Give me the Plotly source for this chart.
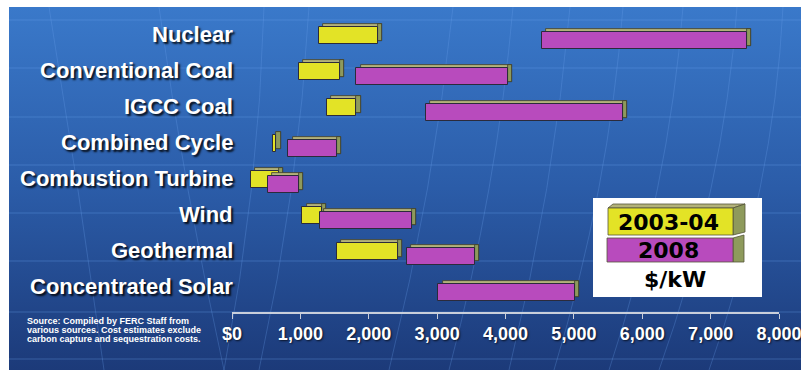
import base64
import plotly.graph_objects as go

# ---------------- data ----------------
categories = ["Nuclear", "Conventional Coal", "IGCC Coal", "Combined Cycle",
              "Combustion Turbine", "Wind", "Geothermal", "Concentrated Solar"]
cost_2003_low = [1270, 980, 1390, 595, 275, 1030, 1530, None]
cost_2003_high = [2130, 1580, 1820, 650, 680, 1320, 2430, None]
cost_2008_low = [4530, 1820, 2830, 825, 520, 1280, 2560, 3020]
cost_2008_high = [7530, 4030, 5720, 1530, 980, 2630, 3550, 5010]
tick_values = [0, 1000, 2000, 3000, 4000, 5000, 6000, 7000, 8000]
tick_labels = ["$0", "1,000", "2,000", "3,000", "4,000", "5,000", "6,000", "7,000", "8,000"]
series_names = ["2003-04", "2008"]
unit_label = "$/kW"
source_lines = ["Source: Compiled by FERC Staff from",
                "various sources. Cost estimates exclude",
                "carbon capture and sequestration costs."]

# ---------------- geometry / style ----------------
W, H = 801, 370
ML, MR, MT, MB = 232, 22, 8, 58
PW, PH = W - ML - MR, H - MT - MB
YELLOW = "#e3e326"
PURPLE = "#b84bbd"
TOPFACE = "#b3b27a"
SIDEFACE = "#8e9a5c"
EDGE = "#2b2b3b"
BAR_W = 0.47
DX = 60       # extrusion depth in x (data units)
DY = 0.09     # extrusion depth in y (category units)

pos = list(range(len(categories)))


def px_x(px):
    return (px - ML) / PW


def px_y(py):
    return (H - MB - py) / PH


def span(lo, hi):
    return [None if (a is None or b is None) else b - a for a, b in zip(lo, hi)]


def shift(vals, d):
    return [None if v is None else v + d for v in vals]


fig = go.Figure()

series = [
    (series_names[0], cost_2003_low, cost_2003_high, YELLOW, -BAR_W / 2 + 0.015),
    (series_names[1], cost_2008_low, cost_2008_high, PURPLE, -BAR_W / 2 + 0.15),
]
for name, lo, hi, col, off in series:
    length = span(lo, hi)
    # top face (extrusion)
    fig.add_trace(go.Bar(
        y=pos, x=length, base=shift(lo, DX), orientation="h",
        width=BAR_W, offset=off - DY,
        marker=dict(color=TOPFACE, line=dict(color="#3c3c2c", width=0.8)),
        hoverinfo="skip", showlegend=False))
    # right face (extrusion)
    fig.add_trace(go.Bar(
        y=pos, x=[None if v is None else DX for v in hi], base=hi, orientation="h",
        width=BAR_W, offset=off - DY,
        marker=dict(color=SIDEFACE, line=dict(color="#3c3c2c", width=0.8)),
        hoverinfo="skip", showlegend=False))
    # front face
    fig.add_trace(go.Bar(
        y=pos, x=length, base=lo, orientation="h", name=name,
        width=BAR_W, offset=off,
        marker=dict(color=col, line=dict(color=EDGE, width=1)),
        showlegend=False))

# ---------------- background (gradient + faint template grid) ----------------
bw, bh = W - 9, H - 7
lines = []
for yy in [13, 61, 110, 158, 206, 254, 305, 352]:
    lines.append(f'<line x1="0" y1="{yy}" x2="{bw}" y2="{yy}" stroke="#6aa0ec" stroke-opacity="0.35" stroke-width="1"/>')
for xt, xb, cx in [(40, 95, 70), (150, 215, 175), (255, 215, 250), (300, 250, 290),
                   (444, 380, 425), (504, 440, 488), (561, 500, 545), (614, 545, 600),
                   (674, 600, 660), (728, 650, 715), (774, 700, 765)]:
    lines.append(f'<path d="M{xt},0 Q{cx},{bh/2} {xb},{bh}" fill="none" stroke="#6aa0ec" stroke-opacity="0.28" stroke-width="1"/>')
svg = (f'<svg xmlns="http://www.w3.org/2000/svg" width="{bw}" height="{bh}" viewBox="0 0 {bw} {bh}" preserveAspectRatio="none">'
       '<defs><linearGradient id="g" x1="0" y1="0" x2="0" y2="1">'
       '<stop offset="0" stop-color="#3a79ca"/><stop offset="0.5" stop-color="#2b5ca8"/>'
       '<stop offset="1" stop-color="#1c3a79"/></linearGradient></defs>'
       f'<rect x="0" y="0" width="{bw}" height="{bh}" fill="url(#g)"/>' + "".join(lines) + '</svg>')
uri = "data:image/svg+xml;base64," + base64.b64encode(svg.encode()).decode()

images = [dict(source=uri, xref="paper", yref="paper", x=px_x(9), y=px_y(7),
               sizex=bw / PW, sizey=bh / PH, xanchor="left", yanchor="top",
               sizing="stretch", layer="below")]

# ---------------- annotations ----------------
ann = []
label_font = dict(family="Liberation Sans, Arial, sans-serif", size=22, color="white",
                  weight="bold", shadow="2px 2px 2px rgba(0,0,0,0.85)")
for p, c in zip(pos, categories):
    ann.append(dict(text=c, x=0, xref="paper", y=p, yref="y", xanchor="right",
                    yanchor="middle", showarrow=False, font=label_font, xshift=3))

src_font = dict(family="Liberation Sans, Arial, sans-serif", size=9, color="white",
                weight="bold")
for i, t in enumerate(source_lines):
    ann.append(dict(text=t, x=px_x(25), y=px_y(321 + 9 * i), xref="paper", yref="paper",
                    xanchor="left", yanchor="middle", showarrow=False, font=src_font))

leg_font = dict(family="DejaVu Sans, Verdana, sans-serif", size=22, color="black", weight="bold")
ann.append(dict(text=series_names[0], x=px_x(668), y=px_y(222), xref="paper", yref="paper",
                xanchor="center", yanchor="middle", showarrow=False, font=leg_font))
ann.append(dict(text=series_names[1], x=px_x(668), y=px_y(250), xref="paper", yref="paper",
                xanchor="center", yanchor="middle", showarrow=False, font=leg_font))
ann.append(dict(text=unit_label, x=px_x(675), y=px_y(279), xref="paper", yref="paper",
                xanchor="center", yanchor="middle", showarrow=False,
                font=dict(family="DejaVu Sans, Verdana, sans-serif",
                          size=22, color="black", weight="bold")))

# ---------------- legend box shapes ----------------
def poly(points):
    return "M " + " L ".join(f"{px_x(a)},{px_y(b)}" for a, b in points) + " Z"


shapes = [
    dict(type="rect", xref="paper", yref="paper", x0=px_x(593), x1=px_x(762),
         y0=px_y(297), y1=px_y(198), fillcolor="white", line=dict(width=0), layer="above"),
    # yellow key
    dict(type="path", xref="paper", yref="paper", path=poly([(608, 208), (613, 204), (745, 204), (733, 208)]),
         fillcolor=TOPFACE, line=dict(color="#55553a", width=0.8), layer="above"),
    dict(type="path", xref="paper", yref="paper", path=poly([(733, 208), (745, 204), (745, 232), (733, 235)]),
         fillcolor=SIDEFACE, line=dict(color="#55553a", width=0.8), layer="above"),
    dict(type="rect", xref="paper", yref="paper", x0=px_x(608), x1=px_x(733), y0=px_y(235), y1=px_y(208),
         fillcolor=YELLOW, line=dict(color="#55553a", width=0.8), layer="above"),
    # purple key
    dict(type="path", xref="paper", yref="paper", path=poly([(733, 238), (744, 235), (744, 262), (733, 262)]),
         fillcolor=SIDEFACE, line=dict(color="#55553a", width=0.8), layer="above"),
    dict(type="rect", xref="paper", yref="paper", x0=px_x(607), x1=px_x(733), y0=px_y(262), y1=px_y(238),
         fillcolor=PURPLE, line=dict(color="#55553a", width=0.8), layer="above"),
]

fig.update_layout(
    width=W, height=H, autosize=False,
    margin=dict(l=ML, r=MR, t=MT, b=MB, autoexpand=False),
    paper_bgcolor="white", plot_bgcolor="rgba(0,0,0,0)",
    barmode="overlay", bargap=0,
    images=images, annotations=ann, shapes=shapes,
    showlegend=False,
    xaxis=dict(range=[0, 8000], tickvals=tick_values, ticktext=tick_labels,
               showgrid=False, zeroline=False, showline=True, linecolor="#c9cfdb",
               linewidth=1.5, ticks="outside", ticklen=5, tickcolor="#c9cfdb",
               ticklabeloverflow="allow", automargin=False,
               tickfont=dict(family="Liberation Sans, Arial, sans-serif", size=18,
                             color="white", weight="bold",
                             shadow="1px 1px 2px rgba(0,0,0,0.7)"),
               fixedrange=True),
    yaxis=dict(range=[7.7, -0.75], showticklabels=False, showgrid=False,
               zeroline=False, showline=False, ticks="", fixedrange=True,
               automargin=False),
)

fig.write_html("out.html")
